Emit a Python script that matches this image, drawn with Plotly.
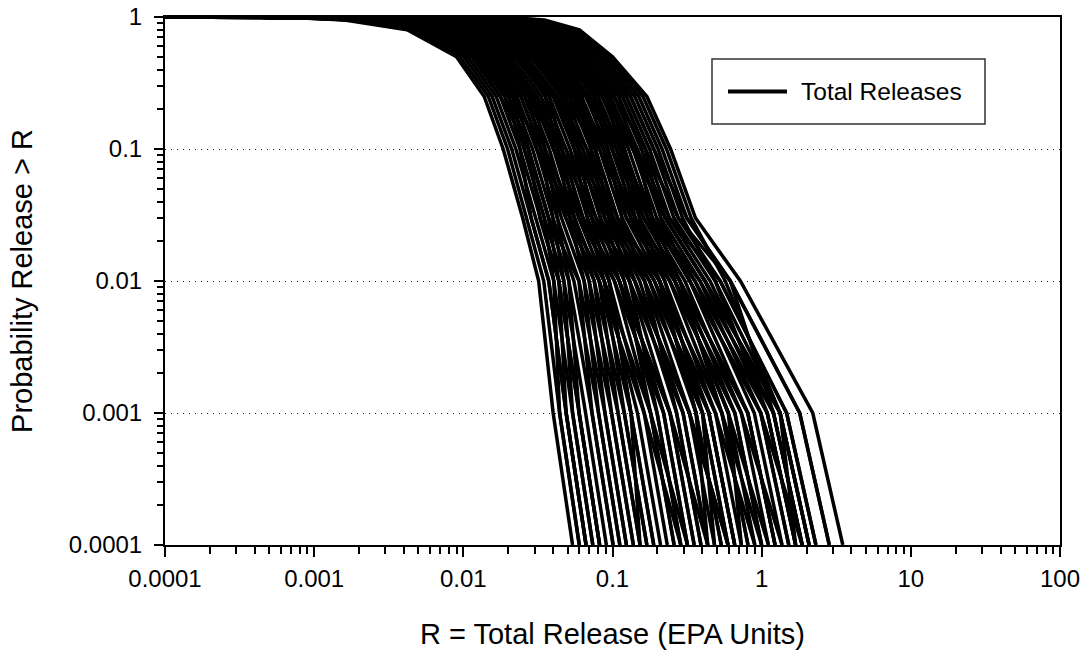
import plotly.graph_objects as go

# ---------------- data ----------------
# Exceedance probability levels at which each curve's release R was read
P_LEVELS = [1.0, 0.99, 0.95, 0.8, 0.5, 0.25, 0.1, 0.03, 0.01, 0.001, 0.0001]
R_START = 0.0001  # every curve starts at the left edge with P = 1

# R values (EPA units) for each realization at P_LEVELS[1:]
CURVE_01 = [0.0007, 0.0016, 0.0042, 0.009, 0.0138, 0.0185, 0.025, 0.032, 0.040, 0.054]
CURVE_02 = [0.02, 0.035, 0.06, 0.1, 0.17, 0.245, 0.36, 0.72, 2.2, 3.5]
CURVE_03 = [0.00083, 0.00187, 0.0048, 0.0101, 0.0156, 0.0211, 0.0285, 0.0374, 0.0489, 0.0665]
CURVE_04 = [0.00098, 0.00218, 0.0055, 0.0114, 0.0177, 0.024, 0.0326, 0.0437, 0.0597, 0.082]
CURVE_05 = [0.00115, 0.00254, 0.0062, 0.0129, 0.0201, 0.0273, 0.0373, 0.051, 0.0729, 0.101]
CURVE_06 = [0.00136, 0.00297, 0.0071, 0.0146, 0.0228, 0.031, 0.0426, 0.0596, 0.089, 0.124]
CURVE_07 = [0.0016, 0.00345, 0.0081, 0.0164, 0.0258, 0.0353, 0.0487, 0.0697, 0.109, 0.153]
CURVE_08 = [0.0019, 0.0040, 0.0093, 0.0185, 0.0293, 0.0402, 0.0556, 0.0815, 0.133, 0.189]
CURVE_09 = [0.00225, 0.0047, 0.0107, 0.0209, 0.0332, 0.0457, 0.0635, 0.095, 0.163, 0.233]
CURVE_10 = [0.00266, 0.0055, 0.0122, 0.0236, 0.0377, 0.052, 0.0726, 0.111, 0.199, 0.287]
CURVE_11 = [0.0031, 0.0064, 0.0139, 0.0266, 0.0427, 0.0592, 0.083, 0.130, 0.243, 0.353]
CURVE_12 = [0.0037, 0.0075, 0.0159, 0.030, 0.0484, 0.0673, 0.0949, 0.152, 0.297, 0.435]
CURVE_13 = [0.0044, 0.0087, 0.0181, 0.0339, 0.0549, 0.0766, 0.108, 0.177, 0.363, 0.536]
CURVE_14 = [0.0052, 0.0102, 0.0207, 0.0382, 0.0622, 0.0872, 0.124, 0.207, 0.443, 0.66]
CURVE_15 = [0.0061, 0.0119, 0.0236, 0.0431, 0.0706, 0.0993, 0.142, 0.242, 0.541, 0.81]
CURVE_16 = [0.0072, 0.0139, 0.027, 0.0486, 0.080, 0.113, 0.162, 0.283, 0.661, 1.0]
CURVE_17 = [0.0085, 0.0162, 0.0308, 0.0549, 0.0908, 0.128, 0.185, 0.33, 0.807, 1.23]
CURVE_18 = [0.0101, 0.0189, 0.0352, 0.062, 0.103, 0.146, 0.211, 0.386, 0.986, 1.52]
CURVE_19 = [0.0119, 0.022, 0.0402, 0.0699, 0.117, 0.166, 0.241, 0.451, 1.2, 1.87]
CURVE_20 = [0.0141, 0.0257, 0.046, 0.0787, 0.132, 0.189, 0.276, 0.527, 1.47, 2.31]
CURVE_21 = [0.0168, 0.030, 0.0525, 0.0887, 0.15, 0.215, 0.315, 0.616, 1.8, 2.84]
CURVE_22 = [0.00098, 0.00218, 0.0062, 0.0129, 0.0228, 0.031, 0.0487, 0.0815, 0.163, 0.287]
CURVE_23 = [0.00136, 0.00297, 0.0071, 0.0164, 0.0293, 0.0457, 0.0726, 0.130, 0.297, 0.435]
CURVE_24 = [0.0019, 0.0040, 0.0107, 0.0236, 0.0427, 0.0673, 0.108, 0.207, 0.541, 0.81]
CURVE_25 = [0.00266, 0.0055, 0.0139, 0.030, 0.0549, 0.0872, 0.142, 0.283, 0.807, 1.23]
CURVE_26 = [0.0037, 0.0075, 0.0181, 0.0382, 0.0706, 0.113, 0.185, 0.386, 1.2, 1.87]
CURVE_27 = [0.0052, 0.0102, 0.0236, 0.0486, 0.0908, 0.146, 0.241, 0.527, 1.47, 2.31]
CURVE_28 = [0.0072, 0.0139, 0.027, 0.0549, 0.103, 0.166, 0.276, 0.616, 1.8, 2.84]
CURVE_29 = [0.0101, 0.0189, 0.0352, 0.062, 0.117, 0.166, 0.211, 0.33, 0.986, 1.87]
CURVE_30 = [0.0141, 0.022, 0.0402, 0.062, 0.0908, 0.113, 0.142, 0.207, 0.363, 0.536]
CURVE_31 = [0.0101, 0.0162, 0.027, 0.0431, 0.0622, 0.0766, 0.0949, 0.130, 0.199, 0.287]
CURVE_32 = [0.0072, 0.0119, 0.0207, 0.0339, 0.0484, 0.0592, 0.0726, 0.095, 0.133, 0.189]
CURVE_33 = [0.0052, 0.0087, 0.0159, 0.0266, 0.0377, 0.0457, 0.0556, 0.0697, 0.089, 0.124]
CURVE_34 = [0.0037, 0.0064, 0.0122, 0.0209, 0.0293, 0.0353, 0.0426, 0.051, 0.0597, 0.082]
CURVE_35 = [0.00266, 0.0047, 0.0093, 0.0164, 0.0228, 0.0273, 0.0326, 0.0437, 0.0489, 0.0665]
CURVE_36 = [0.0019, 0.00345, 0.0081, 0.0146, 0.0201, 0.024, 0.0285, 0.0374, 0.0489, 0.0665]
CURVE_37 = [0.0031, 0.0064, 0.0139, 0.030, 0.0484, 0.0766, 0.108, 0.207, 0.363, 0.435]
CURVE_38 = [0.0044, 0.0087, 0.0181, 0.030, 0.0484, 0.0592, 0.083, 0.111, 0.243, 0.435]
CURVE_39 = [0.0061, 0.0119, 0.0236, 0.0431, 0.080, 0.113, 0.185, 0.33, 0.986, 1.52]
CURVE_40 = [0.0085, 0.0162, 0.0308, 0.0486, 0.080, 0.0993, 0.142, 0.207, 0.443, 0.66]
CURVE_41 = [0.00115, 0.00254, 0.0062, 0.0146, 0.0258, 0.0353, 0.0556, 0.0815, 0.109, 0.153]
CURVE_42 = [0.0016, 0.00345, 0.0081, 0.0185, 0.0293, 0.0457, 0.0635, 0.111, 0.243, 0.353]
CURVE_43 = [0.00225, 0.0047, 0.0122, 0.0236, 0.0427, 0.0592, 0.0949, 0.177, 0.443, 0.66]
CURVE_44 = [0.0119, 0.022, 0.0402, 0.0699, 0.103, 0.146, 0.185, 0.283, 0.541, 1.0]
CURVE_45 = [0.0168, 0.030, 0.0525, 0.0787, 0.132, 0.189, 0.315, 0.616, 1.2, 1.87]
CURVE_46 = [0.00083, 0.00187, 0.0055, 0.0114, 0.0201, 0.0273, 0.0373, 0.0596, 0.0729, 0.101]
CURVE_47 = [0.00136, 0.00297, 0.0081, 0.0164, 0.0293, 0.0402, 0.0635, 0.095, 0.133, 0.153]
CURVE_48 = [0.0007, 0.00187, 0.0048, 0.0114, 0.0177, 0.0273, 0.0373, 0.0437, 0.0597, 0.082]
CURVE_49 = [0.0044, 0.0102, 0.0207, 0.0382, 0.0706, 0.0993, 0.162, 0.283, 0.807, 1.23]
CURVE_50 = [0.0061, 0.0102, 0.0181, 0.0339, 0.0549, 0.0872, 0.124, 0.242, 0.661, 1.0]
CURVE_51 = [0.00076, 0.00173, 0.0045, 0.0095, 0.0147, 0.0198, 0.0267, 0.0346, 0.0442, 0.0599]
CURVE_52 = [0.0009, 0.00202, 0.0051, 0.0107, 0.0166, 0.0225, 0.0305, 0.0404, 0.054, 0.0738]
CURVE_53 = [0.00106, 0.00235, 0.0058, 0.0121, 0.0189, 0.0256, 0.0349, 0.0472, 0.066, 0.091]
CURVE_54 = [0.00125, 0.00275, 0.0066, 0.0137, 0.0214, 0.0291, 0.0399, 0.0551, 0.0806, 0.112]
CURVE_55 = [0.00148, 0.0032, 0.0076, 0.0155, 0.0243, 0.0331, 0.0455, 0.0645, 0.0985, 0.138]
CURVE_56 = [0.00174, 0.00371, 0.0087, 0.0174, 0.0275, 0.0377, 0.052, 0.0754, 0.120, 0.17]
CURVE_57 = [0.00207, 0.00434, 0.01, 0.0197, 0.0312, 0.0429, 0.0594, 0.088, 0.147, 0.21]
CURVE_58 = [0.00245, 0.00508, 0.0114, 0.0222, 0.0354, 0.0488, 0.0679, 0.103, 0.18, 0.259]
CURVE_59 = [0.00287, 0.00593, 0.013, 0.0251, 0.0401, 0.0555, 0.0776, 0.120, 0.22, 0.318]
CURVE_60 = [0.00339, 0.00693, 0.0149, 0.0283, 0.0455, 0.0631, 0.0887, 0.141, 0.269, 0.392]
CURVE_61 = [0.00403, 0.00808, 0.017, 0.0319, 0.0516, 0.0718, 0.101, 0.164, 0.328, 0.483]
CURVE_62 = [0.00478, 0.00942, 0.0194, 0.036, 0.0584, 0.0817, 0.116, 0.191, 0.401, 0.595]
CURVE_63 = [0.00563, 0.011, 0.0221, 0.0406, 0.0663, 0.093, 0.133, 0.224, 0.49, 0.731]
CURVE_64 = [0.00663, 0.0129, 0.0252, 0.0458, 0.0752, 0.106, 0.152, 0.262, 0.598, 0.9]
CURVE_65 = [0.00782, 0.015, 0.0288, 0.0517, 0.0852, 0.120, 0.173, 0.306, 0.73, 1.11]
CURVE_66 = [0.00927, 0.0175, 0.0329, 0.0583, 0.0967, 0.137, 0.198, 0.357, 0.892, 1.37]
CURVE_67 = [0.011, 0.0204, 0.0376, 0.0658, 0.11, 0.156, 0.226, 0.417, 1.09, 1.69]
CURVE_68 = [0.013, 0.0238, 0.043, 0.0742, 0.124, 0.177, 0.258, 0.488, 1.33, 2.08]
CURVE_69 = [0.0154, 0.0278, 0.0491, 0.0836, 0.141, 0.202, 0.295, 0.488, 1.09, 1.69]
CURVE_70 = [0.0183, 0.0324, 0.0561, 0.0942, 0.16, 0.23, 0.337, 0.57, 1.33, 2.08]
CURVE_71 = [0.0009, 0.00202, 0.0058, 0.0121, 0.0214, 0.0331, 0.052, 0.088, 0.18, 0.318]
CURVE_72 = [0.00125, 0.00275, 0.0076, 0.0174, 0.0312, 0.0488, 0.0776, 0.141, 0.328, 0.595]
CURVE_73 = [0.00174, 0.00371, 0.01, 0.0222, 0.0401, 0.0631, 0.101, 0.191, 0.49, 0.9]
CURVE_74 = [0.00245, 0.00508, 0.013, 0.0283, 0.0516, 0.0817, 0.133, 0.262, 0.73, 1.37]
CURVE_75 = [0.00339, 0.00693, 0.017, 0.036, 0.0663, 0.106, 0.173, 0.357, 1.09, 1.69]
CURVE_76 = [0.00478, 0.00942, 0.0221, 0.0458, 0.0852, 0.137, 0.226, 0.417, 1.33, 2.08]
CURVE_77 = [0.0183, 0.0278, 0.043, 0.0658, 0.0967, 0.120, 0.152, 0.224, 0.401, 0.483]
CURVE_78 = [0.013, 0.0204, 0.0329, 0.0517, 0.0752, 0.093, 0.116, 0.164, 0.269, 0.392]
CURVE_79 = [0.00927, 0.015, 0.0252, 0.0406, 0.0584, 0.0718, 0.0887, 0.120, 0.18, 0.259]
CURVE_80 = [0.00663, 0.011, 0.0194, 0.0319, 0.0455, 0.0555, 0.0679, 0.088, 0.120, 0.17]
CURVE_81 = [0.00478, 0.00808, 0.0149, 0.0251, 0.0354, 0.0429, 0.052, 0.0645, 0.0806, 0.112]
CURVE_82 = [0.00339, 0.00593, 0.0114, 0.0197, 0.0275, 0.0331, 0.0399, 0.0472, 0.054, 0.0738]
CURVE_83 = [0.00245, 0.00434, 0.0087, 0.0155, 0.0214, 0.0256, 0.0349, 0.0404, 0.0442, 0.0599]
CURVE_84 = [0.00403, 0.00808, 0.017, 0.036, 0.0584, 0.093, 0.133, 0.262, 0.598, 0.731]
CURVE_85 = [0.00563, 0.011, 0.0221, 0.036, 0.0584, 0.0718, 0.101, 0.141, 0.328, 0.595]
CURVE_86 = [0.00782, 0.015, 0.0288, 0.0517, 0.0967, 0.137, 0.226, 0.417, 1.33, 1.69]
CURVE_87 = [0.011, 0.0204, 0.0376, 0.0583, 0.0967, 0.120, 0.173, 0.262, 0.598, 1.11]
CURVE_88 = [0.00106, 0.00235, 0.0058, 0.0137, 0.0243, 0.0331, 0.052, 0.0754, 0.0985, 0.138]
CURVE_89 = [0.00148, 0.0032, 0.0076, 0.0174, 0.0275, 0.0429, 0.0594, 0.103, 0.22, 0.318]
CURVE_90 = [0.00207, 0.00434, 0.0114, 0.0222, 0.0401, 0.0555, 0.0887, 0.164, 0.401, 0.595]

CURVES = [
    CURVE_01, CURVE_02, CURVE_03, CURVE_04, CURVE_05, CURVE_06, CURVE_07, CURVE_08,
    CURVE_09, CURVE_10, CURVE_11, CURVE_12, CURVE_13, CURVE_14, CURVE_15, CURVE_16,
    CURVE_17, CURVE_18, CURVE_19, CURVE_20, CURVE_21, CURVE_22, CURVE_23, CURVE_24,
    CURVE_25, CURVE_26, CURVE_27, CURVE_28, CURVE_29, CURVE_30, CURVE_31, CURVE_32,
    CURVE_33, CURVE_34, CURVE_35, CURVE_36, CURVE_37, CURVE_38, CURVE_39, CURVE_40,
    CURVE_41, CURVE_42, CURVE_43, CURVE_44, CURVE_45, CURVE_46, CURVE_47, CURVE_48,
    CURVE_49, CURVE_50, CURVE_51, CURVE_52, CURVE_53, CURVE_54, CURVE_55, CURVE_56,
    CURVE_57, CURVE_58, CURVE_59, CURVE_60, CURVE_61, CURVE_62, CURVE_63, CURVE_64,
    CURVE_65, CURVE_66, CURVE_67, CURVE_68, CURVE_69, CURVE_70, CURVE_71, CURVE_72,
    CURVE_73, CURVE_74, CURVE_75, CURVE_76, CURVE_77, CURVE_78, CURVE_79, CURVE_80,
    CURVE_81, CURVE_82, CURVE_83, CURVE_84, CURVE_85, CURVE_86, CURVE_87, CURVE_88,
    CURVE_89, CURVE_90,
]

X_TICK_VALS = [0.0001, 0.001, 0.01, 0.1, 1, 10, 100]
X_TICK_TEXT = ["0.0001", "0.001", "0.01", "0.1", "1", "10", "100"]
Y_TICK_VALS = [0.0001, 0.001, 0.01, 0.1, 1]
Y_TICK_TEXT = ["0.0001", "0.001", "0.01", "0.1", "1"]
SERIES_NAME = "Total Releases"
X_TITLE = "R = Total Release (EPA Units)"
Y_TITLE = "Probability Release > R"

# ---------------- style ----------------
FONT = "Liberation Sans, Arial, sans-serif"
W, H = 1089, 656
PLOT_LEFT, PLOT_TOP, PLOT_RIGHT, PLOT_BOTTOM = 165, 17, 1060, 545   # page pixels
L, T, R, B = PLOT_LEFT, PLOT_TOP, W - PLOT_RIGHT, H - PLOT_BOTTOM
PW, PH = PLOT_RIGHT - PLOT_LEFT, PLOT_BOTTOM - PLOT_TOP

fig = go.Figure()
for curve in CURVES:
    fig.add_trace(go.Scatter(
        x=[R_START] + curve, y=P_LEVELS, mode="lines",
        line=dict(color="black", width=3.5), name=SERIES_NAME,
        showlegend=False, hoverinfo="skip",
    ))

x_minor = [m * 10.0 ** e for e in range(-4, 2) for m in range(2, 10)]
y_minor = [m * 10.0 ** e for e in range(-4, 0) for m in range(2, 10)]

axis_common = dict(
    showline=True, linecolor="black", linewidth=2, mirror=True,
    ticks="outside", tickcolor="black", tickwidth=2,
    tickfont=dict(family=FONT, size=24, color="black"),
    zeroline=False, ticklabeloverflow="allow",
)

fig.update_xaxes(
    type="log", range=[-4, 2], tickvals=X_TICK_VALS, ticktext=X_TICK_TEXT,
    ticklen=10, showgrid=False, ticklabelstandoff=1,
    minor=dict(tickvals=x_minor, ticks="outside", ticklen=7, tickwidth=2,
               tickcolor="black", showgrid=False),
    title=dict(text=X_TITLE, font=dict(family=FONT, size=29, color="black"), standoff=33),
    **axis_common,
)
fig.update_yaxes(
    type="log", range=[-4, 0], tickvals=Y_TICK_VALS, ticktext=Y_TICK_TEXT,
    ticklen=9, showgrid=True, gridcolor="#222222", gridwidth=1, griddash="1px,5px",
    ticklabelstandoff=7,
    minor=dict(tickvals=y_minor, ticks="outside", ticklen=6, tickwidth=2,
               tickcolor="black", showgrid=False),
    title=dict(text=Y_TITLE, font=dict(family=FONT, size=29, color="black"), standoff=28),
    **axis_common,
)

# legend box drawn in the plot area (pixel positions converted to paper units)
def px_x(px):
    return (px - PLOT_LEFT) / PW

def px_y(py):
    return 1 - (py - PLOT_TOP) / PH

fig.add_shape(type="rect", xref="paper", yref="paper",
              x0=px_x(712), x1=px_x(985), y0=px_y(124), y1=px_y(59),
              line=dict(color="#333333", width=1.5), fillcolor="white", layer="above")
fig.add_shape(type="line", xref="paper", yref="paper",
              x0=px_x(728), x1=px_x(787), y0=px_y(91.5), y1=px_y(91.5),
              line=dict(color="black", width=4), layer="above")
fig.add_annotation(xref="paper", yref="paper", x=px_x(799), y=px_y(91.5),
                   text=SERIES_NAME, showarrow=False, xanchor="left", yanchor="middle",
                   font=dict(family=FONT, size=24.5, color="black"))

fig.update_layout(
    width=W, height=H, autosize=False,
    margin=dict(l=L, r=R, t=T, b=B, autoexpand=False),
    paper_bgcolor="white", plot_bgcolor="white",
    showlegend=False,
)

# remove the default page margin so the figure fills the 1089x656 window exactly
fig.write_html("out.html", config={"displayModeBar": False},
               post_script="document.body.style.margin='0px';")
